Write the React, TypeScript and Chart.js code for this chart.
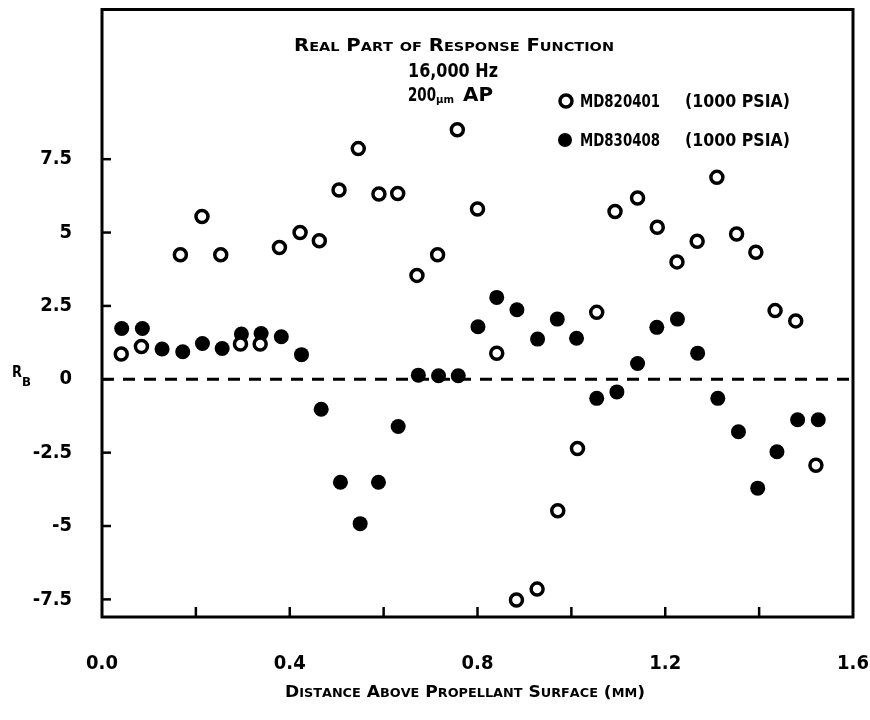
import React, { useEffect, useRef } from 'react';
import { Chart, registerables } from 'chart.js';

Chart.register(...registerables);

// ---- data ----
const openX = [0.041, 0.084, 0.167, 0.213, 0.253, 0.295, 0.337, 0.378, 0.422, 0.463, 0.505, 0.546, 0.590, 0.630, 0.671, 0.715, 0.757, 0.800, 0.841, 0.883, 0.927, 0.971, 1.013, 1.054, 1.093, 1.141, 1.183, 1.225, 1.268, 1.310, 1.352, 1.393, 1.434, 1.478, 1.521];
const openY = [0.86, 1.12, 4.24, 5.55, 4.24, 1.2, 1.2, 4.49, 5.0, 4.72, 6.45, 7.86, 6.31, 6.33, 3.54, 4.24, 8.5, 5.8, 0.89, -7.52, -7.15, -4.48, -2.36, 2.28, 5.72, 6.18, 5.18, 4.0, 4.7, 6.88, 4.95, 4.33, 2.34, 1.99, -2.93];

const filledX = [0.042, 0.086, 0.128, 0.172, 0.214, 0.256, 0.297, 0.339, 0.382, 0.425, 0.467, 0.508, 0.550, 0.589, 0.631, 0.674, 0.717, 0.759, 0.801, 0.841, 0.884, 0.928, 0.970, 1.011, 1.054, 1.097, 1.141, 1.182, 1.226, 1.269, 1.312, 1.356, 1.397, 1.438, 1.482, 1.526];
const filledY = [1.73, 1.73, 1.03, 0.94, 1.22, 1.05, 1.54, 1.56, 1.45, 0.84, -1.02, -3.51, -4.92, -3.51, -1.61, 0.14, 0.12, 0.12, 1.79, 2.79, 2.37, 1.37, 2.05, 1.4, -0.65, -0.43, 0.54, 1.77, 2.05, 0.89, -0.65, -1.79, -3.71, -2.47, -1.38, -1.38];

const zeroLineX = [0, 1.6];
const zeroLineY = [0, 0];

const xMin = 0;
const xMax = 1.6;
const yMin = -8.1;
const yMax = 12.6;
const xTickMarks = [0.2, 0.4, 0.6, 0.8, 1.0, 1.2, 1.4];
const xLabelValues = [0, 0.4, 0.8, 1.2, 1.6];
const yTickValues = [-7.5, -5, -2.5, 0, 2.5, 5, 7.5];
const yTickLabels = ['-7.5', '-5', '-2.5', '0', '2.5', '5', '7.5'];

const titleLine1 = 'Real Part of Response Function';
const titleLine2 = '16,000 Hz';
const titleLine3a = '200';
const titleLine3b = 'µm';
const titleLine3c = 'AP';
const seriesNames = ['MD820401', 'MD830408'];
const seriesNote = '(1000 PSIA)';
const xTitle = 'Distance Above Propellant Surface (mm)';
const yTitleMain = 'R';
const yTitleSub = 'B';

const FAMILY = "'DejaVu Sans Condensed', 'Liberation Sans Narrow', 'DejaVu Sans', sans-serif";

function font(size: number) {
  return `bold ${size}px ${FAMILY}`;
}

// draw text in manual small caps, scaled horizontally to a target width
function drawSmallCaps(ctx: CanvasRenderingContext2D, text: string, left: number, baseline: number, big: number, small: number, targetWidth: number) {
  const parts: { ch: string; size: number }[] = [];
  for (const ch of text) {
    const isLower = ch >= 'a' && ch <= 'z';
    parts.push({ ch: isLower ? ch.toUpperCase() : ch, size: isLower ? small : big });
  }
  let total = 0;
  const widths: number[] = [];
  for (const p of parts) {
    ctx.font = font(p.size);
    const w = ctx.measureText(p.ch).width;
    widths.push(w);
    total += w;
  }
  const sx = targetWidth / total;
  ctx.save();
  ctx.translate(left, baseline);
  ctx.scale(sx, 1);
  let x = 0;
  parts.forEach((p, i) => {
    ctx.font = font(p.size);
    ctx.fillText(p.ch, x, 0);
    x += widths[i];
  });
  ctx.restore();
}

function drawFit(ctx: CanvasRenderingContext2D, text: string, left: number, baseline: number, size: number, targetWidth: number) {
  ctx.font = font(size);
  const w = ctx.measureText(text).width;
  ctx.save();
  ctx.translate(left, baseline);
  ctx.scale(targetWidth / w, 1);
  ctx.fillText(text, 0, 0);
  ctx.restore();
}

const decorPlugin = {
  id: 'decor',
  afterDatasetsDraw(chart: any) {
    const ctx: CanvasRenderingContext2D = chart.ctx;
    const area = chart.chartArea;
    const xs = chart.scales.x;
    const ys = chart.scales.y;
    ctx.save();
    ctx.strokeStyle = '#000';
    ctx.lineCap = 'butt';
    // frame
    ctx.lineWidth = 3;
    ctx.strokeRect(area.left, area.top, area.right - area.left, area.bottom - area.top);
    // inward tick marks
    ctx.lineWidth = 2.5;
    for (const v of xTickMarks) {
      const px = xs.getPixelForValue(v);
      ctx.beginPath();
      ctx.moveTo(px, area.bottom);
      ctx.lineTo(px, area.bottom - 10);
      ctx.stroke();
    }
    for (const v of yTickValues) {
      const py = ys.getPixelForValue(v);
      ctx.beginPath();
      ctx.moveTo(area.left, py);
      ctx.lineTo(area.left + 9, py);
      ctx.stroke();
    }
    ctx.restore();
  },
  afterDraw(chart: any) {
    const ctx: CanvasRenderingContext2D = chart.ctx;
    ctx.save();
    ctx.fillStyle = '#000';
    ctx.textBaseline = 'alphabetic';
    ctx.textAlign = 'left';

    // title block
    drawSmallCaps(ctx, titleLine1, 294, 51, 17, 12.5, 320);
    drawFit(ctx, titleLine2, 408, 77, 19, 90);
    drawFit(ctx, titleLine3a, 408, 101, 19, 28);
    drawFit(ctx, titleLine3b, 436, 103, 11, 18);
    drawFit(ctx, titleLine3c, 463, 101, 19, 30);

    // legend
    ctx.strokeStyle = '#000';
    ctx.lineWidth = 3.5;
    ctx.beginPath();
    ctx.arc(566, 101, 6, 0, Math.PI * 2);
    ctx.stroke();
    ctx.beginPath();
    ctx.arc(565, 140, 7, 0, Math.PI * 2);
    ctx.fill();
    drawFit(ctx, seriesNames[0], 580, 107, 18, 80);
    drawFit(ctx, seriesNote, 685, 107, 18, 105);
    drawFit(ctx, seriesNames[1], 580, 146, 18, 80);
    drawFit(ctx, seriesNote, 685, 146, 18, 105);

    // axis titles
    drawSmallCaps(ctx, xTitle, 285, 697, 16, 12, 360);
    drawFit(ctx, yTitleMain, 12, 377, 16, 10);
    drawFit(ctx, yTitleSub, 22, 386, 12, 9);
    ctx.restore();
  },
};

export default function App() {
  const canvasRef = useRef<HTMLCanvasElement | null>(null);

  useEffect(() => {
    const canvas = canvasRef.current;
    if (!canvas) return;
    const chart = new Chart(canvas, {
      type: 'scatter',
      data: {
        datasets: [
          {
            label: seriesNames[0],
            data: openX.map((x, i) => ({ x, y: openY[i] })),
            pointStyle: 'circle',
            pointRadius: 6,
            pointBorderWidth: 3.5,
            pointBackgroundColor: '#fff',
            pointBorderColor: '#000',
            showLine: false,
          },
          {
            label: seriesNames[1],
            data: filledX.map((x, i) => ({ x, y: filledY[i] })),
            pointStyle: 'circle',
            pointRadius: 7.5,
            pointBorderWidth: 0,
            pointBackgroundColor: '#000',
            pointBorderColor: '#000',
            showLine: false,
          },
          {
            label: 'zero',
            data: zeroLineX.map((x, i) => ({ x, y: zeroLineY[i] })),
            showLine: true,
            borderColor: '#000',
            borderWidth: 3,
            borderDash: [12, 9],
            pointRadius: 0,
            fill: false,
          },
        ],
      },
      options: {
        responsive: false,
        animation: false,
        devicePixelRatio: 1,
        layout: { padding: { left: 0, top: 9, right: 17, bottom: 0 } },
        plugins: {
          legend: { display: false },
          tooltip: { enabled: false },
        },
        scales: {
          x: {
            type: 'linear',
            min: xMin,
            max: xMax,
            grid: { display: false, drawTicks: false },
            border: { display: false },
            afterBuildTicks: (scale: any) => {
              scale.ticks = xLabelValues.map((v) => ({ value: v }));
            },
            afterFit: (scale: any) => {
              scale.height = 103;
              scale.paddingLeft = 0;
              scale.paddingRight = 0;
            },
            ticks: {
              autoSkip: false,
              maxRotation: 0,
              padding: 35,
              color: '#000',
              font: { family: FAMILY, size: 20, weight: 'bold' },
              callback: (v: any) => Number(v).toFixed(1),
            },
          },
          y: {
            type: 'linear',
            min: yMin,
            max: yMax,
            grid: { display: false, drawTicks: false },
            border: { display: false },
            afterBuildTicks: (scale: any) => {
              scale.ticks = yTickValues.map((v) => ({ value: v }));
            },
            afterFit: (scale: any) => {
              scale.width = 102;
              scale.paddingTop = 0;
              scale.paddingBottom = 0;
            },
            ticks: {
              autoSkip: false,
              padding: 30,
              color: '#000',
              font: { family: FAMILY, size: 20, weight: 'bold' },
              callback: (v: any) => {
                const idx = yTickValues.indexOf(Number(v));
                return idx >= 0 ? yTickLabels[idx] : '';
              },
            },
          },
        },
      },
      plugins: [decorPlugin],
    });
    return () => chart.destroy();
  }, []);

  return (
    <div style={{ position: 'fixed', left: 0, top: 0, width: 870, height: 720, background: '#fff' }}>
      <canvas ref={canvasRef} width={870} height={720} style={{ display: 'block' }} />
    </div>
  );
}
